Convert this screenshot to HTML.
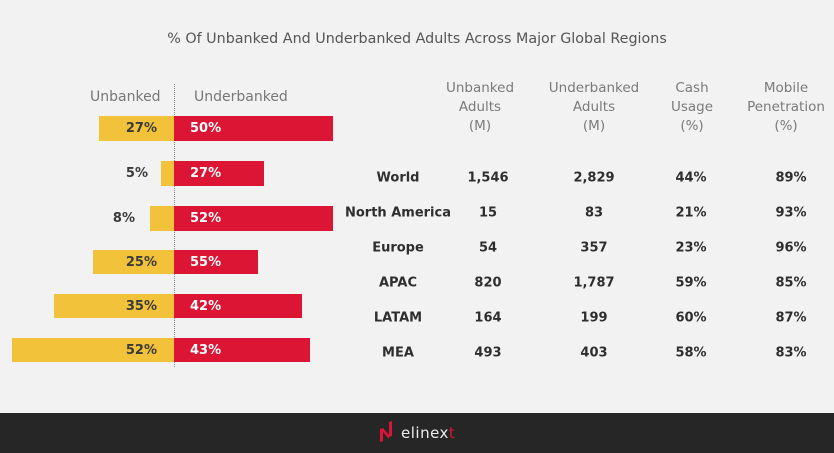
<!DOCTYPE html>
<html><head><meta charset="utf-8"><style>
body{margin:0;width:834px;height:453px;background:#f2f2f2;font-family:"DejaVu Sans","Liberation Sans",sans-serif;position:relative;overflow:hidden}
.a{position:absolute}
.t{position:absolute;white-space:nowrap}
.y{background:#f2c23a}.r{background:#dc1535}
.bl{font-weight:bold;font-size:13px;color:#3a3a3a}
.wl{font-weight:bold;font-size:13px;color:#fff}
.h{font-size:13.5px;color:#7a7a7a;text-align:center;line-height:19px;transform:translateX(-50%)}
.c{font-size:13px;font-weight:bold;color:#2e2e2e;transform:translate(-50%,-50%)}
</style></head><body>
<div class="t" style="left:0;width:834px;top:31px;text-align:center;font-size:14.3px;color:#555">% Of Unbanked And Underbanked Adults Across Major Global Regions</div>
<div class="t" style="left:90px;top:89px;font-size:14px;color:#777">Unbanked</div>
<div class="t" style="left:194px;top:89px;font-size:14px;color:#777">Underbanked</div>
<div class="a" style="left:174px;top:84px;height:283px;border-left:1px dotted #888"></div>

<div class="a y" style="left:99px;top:116px;width:75px;height:25px"></div><div class="a r" style="left:174px;top:116px;width:159px;height:25px"></div>
<div class="a y" style="left:161px;top:161px;width:13px;height:25px"></div><div class="a r" style="left:174px;top:161px;width:90px;height:25px"></div>
<div class="a y" style="left:150px;top:206px;width:24px;height:25px"></div><div class="a r" style="left:174px;top:206px;width:159px;height:25px"></div>
<div class="a y" style="left:93px;top:250px;width:81px;height:24px"></div><div class="a r" style="left:174px;top:250px;width:84px;height:24px"></div>
<div class="a y" style="left:54px;top:294px;width:120px;height:24px"></div><div class="a r" style="left:174px;top:294px;width:128px;height:24px"></div>
<div class="a y" style="left:12px;top:338px;width:162px;height:24px"></div><div class="a r" style="left:174px;top:338px;width:136px;height:24px"></div>

<div class="t bl" style="right:677px;top:121px">27%</div><div class="t wl" style="left:190px;top:121px">50%</div>
<div class="t bl" style="right:686px;top:166px">5%</div><div class="t wl" style="left:190px;top:166px">27%</div>
<div class="t bl" style="right:699px;top:211px">8%</div><div class="t wl" style="left:190px;top:211px">52%</div>
<div class="t bl" style="right:677px;top:255px">25%</div><div class="t wl" style="left:190px;top:255px">55%</div>
<div class="t bl" style="right:677px;top:299px">35%</div><div class="t wl" style="left:190px;top:299px">42%</div>
<div class="t bl" style="right:677px;top:343px">52%</div><div class="t wl" style="left:190px;top:343px">43%</div>

<div class="t h" style="left:480px;top:79px">Unbanked<br>Adults<br>(M)</div>
<div class="t h" style="left:594px;top:79px">Underbanked<br>Adults<br>(M)</div>
<div class="t h" style="left:692px;top:79px">Cash<br>Usage<br>(%)</div>
<div class="t h" style="left:786px;top:79px">Mobile<br>Penetration<br>(%)</div>

<div class="t c" style="left:398px;top:178px">World</div><div class="t c" style="left:488px;top:178px">1,546</div><div class="t c" style="left:594px;top:178px">2,829</div><div class="t c" style="left:691px;top:178px">44%</div><div class="t c" style="left:791px;top:178px">89%</div>
<div class="t c" style="left:398px;top:213px">North America</div><div class="t c" style="left:488px;top:213px">15</div><div class="t c" style="left:594px;top:213px">83</div><div class="t c" style="left:691px;top:213px">21%</div><div class="t c" style="left:791px;top:213px">93%</div>
<div class="t c" style="left:398px;top:248px">Europe</div><div class="t c" style="left:488px;top:248px">54</div><div class="t c" style="left:594px;top:248px">357</div><div class="t c" style="left:691px;top:248px">23%</div><div class="t c" style="left:791px;top:248px">96%</div>
<div class="t c" style="left:398px;top:283px">APAC</div><div class="t c" style="left:488px;top:283px">820</div><div class="t c" style="left:594px;top:283px">1,787</div><div class="t c" style="left:691px;top:283px">59%</div><div class="t c" style="left:791px;top:283px">85%</div>
<div class="t c" style="left:398px;top:318px">LATAM</div><div class="t c" style="left:488px;top:318px">164</div><div class="t c" style="left:594px;top:318px">199</div><div class="t c" style="left:691px;top:318px">60%</div><div class="t c" style="left:791px;top:318px">87%</div>
<div class="t c" style="left:398px;top:353px">MEA</div><div class="t c" style="left:488px;top:353px">493</div><div class="t c" style="left:594px;top:353px">403</div><div class="t c" style="left:691px;top:353px">58%</div><div class="t c" style="left:791px;top:353px">83%</div>

<div class="a" style="left:0;top:413px;width:834px;height:40px;background:#262626"></div>
<svg class="a" style="left:378px;top:421px" width="16" height="22"><polygon points="2,8 5,7 5,20 2,21" fill="#dc1535"/><polygon points="5,7 11,14 11,18 5,11" fill="#dc1535"/><polygon points="11,1 14,0 14,15 11,16" fill="#dc1535"/></svg>
<div class="t" style="left:401px;top:424px;font-size:15px;color:#eee;letter-spacing:0.5px">elinex<span style="color:#dc1535">t</span></div>
</body></html>
